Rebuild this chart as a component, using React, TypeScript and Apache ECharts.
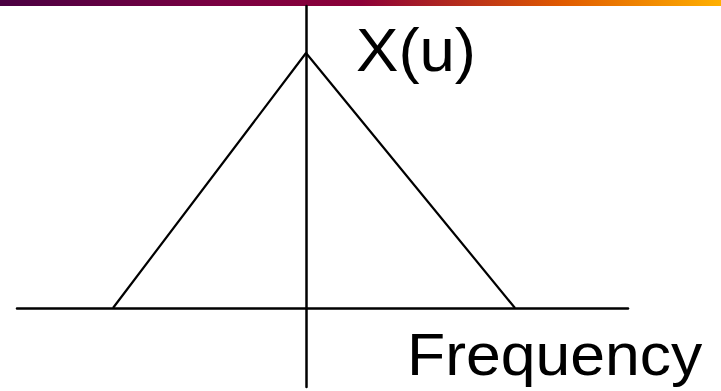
import React, { useEffect, useRef } from "react";
import * as echarts from "echarts";

// Triangle spectrum X(u): [frequency, magnitude]
const spectrumPoints: [number, number][] = [
  [-1.93, 0],
  [0, 2.55],
  [2.09, 0],
];
const xRange = [-2.89, 3.22];
const yRange = [-0.79, 3.02];
const yLabel = "X(u)";
const xLabel = "Frequency";
const barColors = ["#4a0042", "#7a0042", "#8c0038", "#e05a00", "#ffb000"];

export default function App() {
  const ref = useRef<HTMLDivElement>(null);
  useEffect(() => {
    document.body.style.margin = "0";
    const chart = echarts.init(ref.current!, undefined, { renderer: "svg" });
    const axisCommon = {
      type: "value" as const,
      axisLine: { show: true, onZero: true, lineStyle: { color: "#000", width: 2.5 } },
      axisTick: { show: false },
      axisLabel: { show: false },
      splitLine: { show: false },
    };
    chart.setOption({
      animation: false,
      backgroundColor: "#fff",
      grid: { left: 17, right: 93, top: 6, bottom: 4, containLabel: false },
      xAxis: { ...axisCommon, min: xRange[0], max: xRange[1] },
      yAxis: { ...axisCommon, min: yRange[0], max: yRange[1] },
      series: [
        {
          type: "line",
          data: spectrumPoints,
          symbol: "none",
          lineStyle: { color: "#000", width: 2.2 },
        },
      ],
      graphic: [
        {
          type: "rect",
          shape: { x: 0, y: 0, width: 721, height: 6 },
          style: {
            fill: new echarts.graphic.LinearGradient(0, 0, 1, 0, [
              { offset: 0, color: barColors[0] },
              { offset: 0.3, color: barColors[1] },
              { offset: 0.5, color: barColors[2] },
              { offset: 0.78, color: barColors[3] },
              { offset: 1, color: barColors[4] },
            ]),
          },
        },
        {
          type: "text",
          x: 356,
          y: 18,
          scaleX: 1.025,
          style: {
            x: 0,
            y: 0,
            text: yLabel,
            fontSize: 62,
            fontFamily: "'Liberation Sans', Arial, sans-serif",
            fill: "#000",
            verticalAlign: "top",
          },
        },
        {
          type: "text",
          x: 407,
          y: 324,
          scaleX: 1.042,
          style: {
            x: 0,
            y: 0,
            text: xLabel,
            fontSize: 60,
            fontFamily: "'Liberation Sans', Arial, sans-serif",
            fill: "#000",
            verticalAlign: "top",
          },
        },
      ],
    });
    return () => chart.dispose();
  }, []);
  return (
    <div
      ref={ref}
      style={{ position: "fixed", left: 0, top: 0, width: 721, height: 391 }}
    />
  );
}
